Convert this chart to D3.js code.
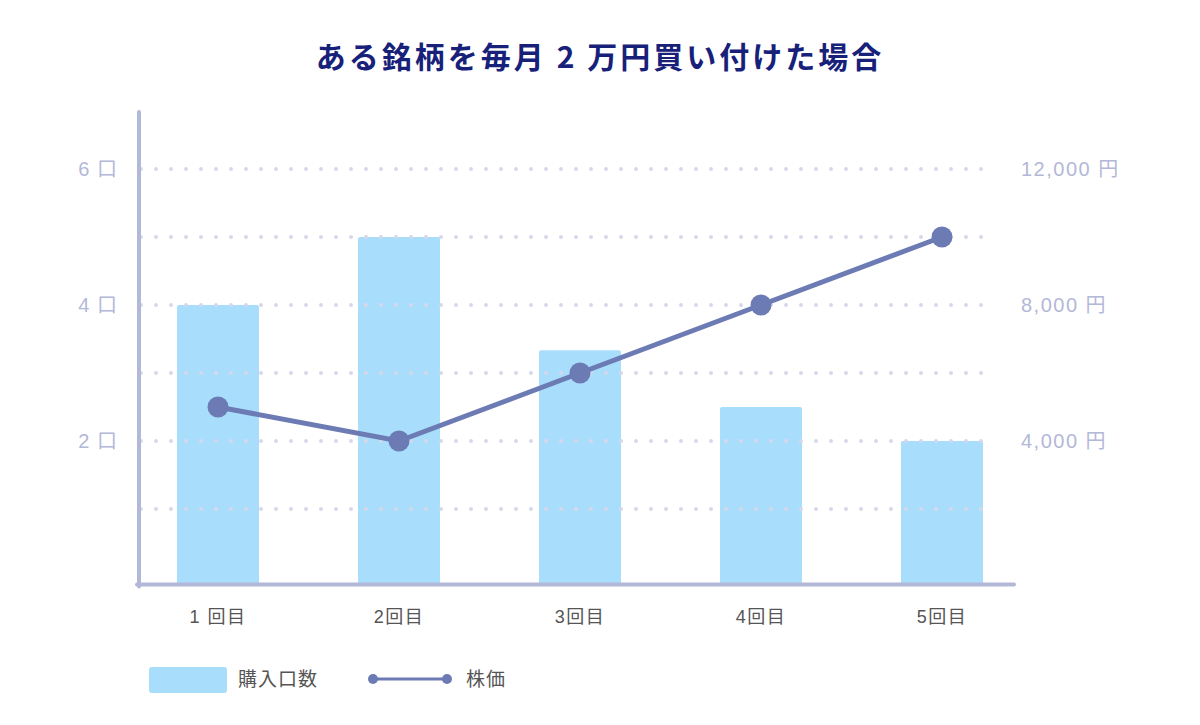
<!DOCTYPE html>
<html><head><meta charset="utf-8">
<script src="https://cdn.jsdelivr.net/npm/d3@7/dist/d3.min.js"></script>
<style>
body{margin:0;background:#fff;}
text{font-family:"Liberation Sans","Noto Sans CJK JP",sans-serif;}
</style></head>
<body><svg id="c" width="1200" height="725"></svg>
<script>
const title = "ある銘柄を毎月 2 万円買い付けた場合";
const categories = ["1 回目","2回目","3回目","4回目","5回目"];
const units = [4, 5, 3.333, 2.5, 2];
const prices = [5000, 4000, 6000, 8000, 10000];
const leftTicks = [2, 4, 6];
const leftTickLabels = ["2 口","4 口","6 口"];
const rightTicks = [4000, 8000, 12000];
const rightTickLabels = ["4,000 円","8,000 円","12,000 円"];
const gridValues = [1, 2, 3, 4, 5, 6];
const legendLabels = ["購入口数","株価"];

const svg = d3.select("#c");
const barColor = "#a9ddfc", lineColor = "#6c7bb4", axisColor = "#b3b8d8";
const axisY = 584.5, axisX = 139;

const x = d3.scaleBand().domain(categories).range([127.5, 1032.5]).paddingInner(0.547).paddingOuter(0.2735);
const y = d3.scaleLinear().domain([0, 6]).range([577, 169]);
const y2 = d3.scaleLinear().domain([0, 12000]).range([577, 169]);

svg.append("text").attr("x", 600).attr("y", 57).attr("dy", "0.36em").attr("text-anchor", "middle")
  .attr("font-size", 30).attr("font-weight", 700).attr("letter-spacing", 3)
  .style("font-family", "'Noto Sans CJK JP',sans-serif").attr("fill", "#17217a").text(title);

// bars
svg.append("g").selectAll("path").data(units).join("path")
  .attr("d", (d, i) => {
    const x0 = x(categories[i]), w = x.bandwidth(), t = y(d), r = 2;
    return `M${x0},${axisY}V${t + r}Q${x0},${t} ${x0 + r},${t}H${x0 + w - r}Q${x0 + w},${t} ${x0 + w},${t + r}V${axisY}Z`;
  })
  .attr("fill", barColor);

// dotted gridlines (on top of bars)
svg.append("g").selectAll("line").data(gridValues).join("line")
  .attr("x1", 141).attr("x2", 995)
  .attr("y1", d => y(d)).attr("y2", d => y(d))
  .attr("stroke", "#d6d7ea").attr("stroke-width", 4).attr("stroke-linecap", "round")
  .attr("stroke-dasharray", "0 15");

// axes lines
svg.append("line").attr("x1", axisX).attr("x2", axisX).attr("y1", 112).attr("y2", axisY + 2)
  .attr("stroke", axisColor).attr("stroke-width", 4).attr("stroke-linecap", "round");
svg.append("line").attr("x1", axisX - 2).attr("x2", 1014).attr("y1", axisY).attr("y2", axisY)
  .attr("stroke", axisColor).attr("stroke-width", 4).attr("stroke-linecap", "round");

// left tick labels
svg.append("g").selectAll("text").data(leftTicks).join("text")
  .attr("x", 118).attr("y", d => y(d)).attr("dy", "0.35em").attr("text-anchor", "end")
  .attr("font-size", 20).attr("letter-spacing", 1).attr("fill", axisColor).text((d, i) => leftTickLabels[i]);
// right tick labels
svg.append("g").selectAll("text").data(rightTicks).join("text")
  .attr("x", 1021).attr("y", d => y2(d)).attr("dy", "0.35em").attr("text-anchor", "start")
  .attr("font-size", 20).attr("letter-spacing", 1.5).attr("fill", axisColor).text((d, i) => rightTickLabels[i]);

// x labels
svg.append("g").selectAll("text").data(categories).join("text")
  .attr("x", d => x(d) + x.bandwidth() / 2).attr("y", 617).attr("dy", "0.35em")
  .attr("text-anchor", "middle").attr("font-size", 18).attr("letter-spacing", 1.5).attr("fill", "#555").text(d => d);

// price line
const line = d3.line().x((d, i) => x(categories[i]) + x.bandwidth() / 2).y(d => y2(d));
svg.append("path").datum(prices).attr("d", line).attr("fill", "none")
  .attr("stroke", lineColor).attr("stroke-width", 5);
svg.append("g").selectAll("circle").data(prices).join("circle")
  .attr("cx", (d, i) => x(categories[i]) + x.bandwidth() / 2).attr("cy", d => y2(d))
  .attr("r", 10.5).attr("fill", lineColor);

// legend
const lg = svg.append("g");
lg.append("rect").attr("x", 149).attr("y", 667).attr("width", 78).attr("height", 26).attr("rx", 3).attr("fill", barColor);
lg.append("text").attr("x", 238).attr("y", 679).attr("dy", "0.35em").attr("font-size", 19).attr("letter-spacing", 1).attr("fill", "#555").text(legendLabels[0]);
lg.append("line").attr("x1", 373).attr("x2", 447).attr("y1", 679).attr("y2", 679).attr("stroke", lineColor).attr("stroke-width", 3);
lg.selectAll("circle").data([373, 447]).join("circle").attr("cx", d => d).attr("cy", 679).attr("r", 5).attr("fill", lineColor);
lg.append("text").attr("x", 466).attr("y", 679).attr("dy", "0.35em").attr("font-size", 19).attr("letter-spacing", 1).attr("fill", "#555").text(legendLabels[1]);
</script></body></html>
